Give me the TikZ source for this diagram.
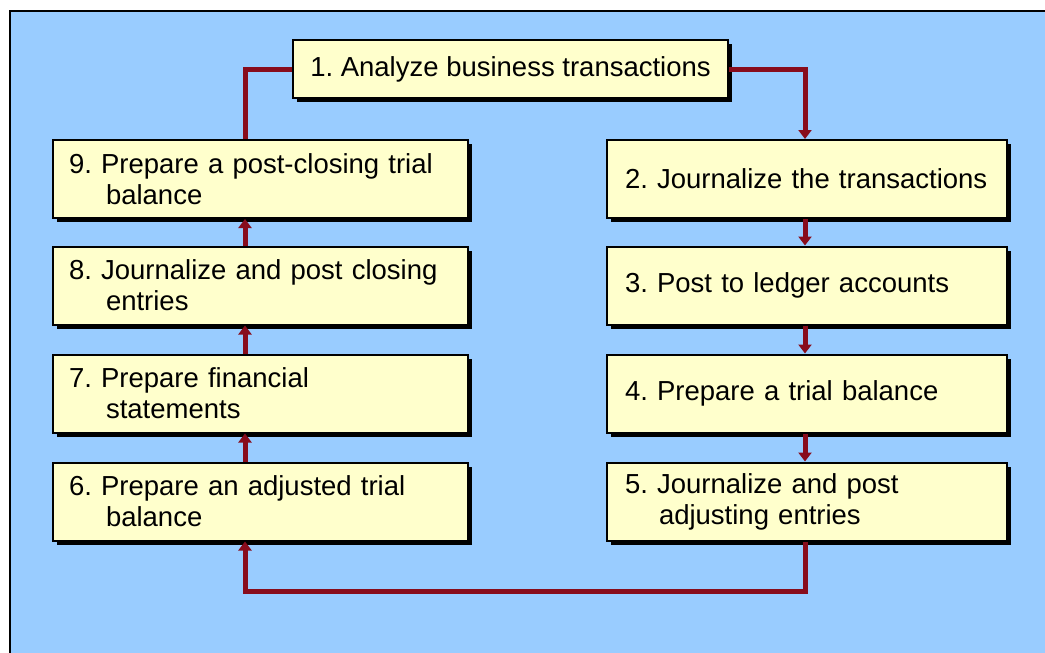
\documentclass[tikz,border=0pt]{standalone}
\usepackage{fontspec}
\setmainfont{Liberation Sans}
\usetikzlibrary{arrows.meta,shadows}
\definecolor{skyblue}{HTML}{99CCFF}
\definecolor{paleyellow}{HTML}{FFFFCC}
\definecolor{wine}{HTML}{880C1C}
\frenchspacing
\hyphenpenalty=10000
\exhyphenpenalty=10000
\tikzset{
  stepbox/.style={draw=black, line width=2pt, fill=paleyellow,
    drop shadow={shadow xshift=4pt, shadow yshift=-4pt, fill=black, opacity=1},
    inner xsep=16pt, inner ysep=0pt, align=left, anchor=center,
    font=\fontsize{27.5}{31}\selectfont},
  leftbox/.style={stepbox, minimum width=415pt, minimum height=78pt, text width=383pt},
  rightbox/.style={stepbox, minimum width=400pt, minimum height=78pt, inner xsep=18pt, text width=364pt},
  link/.style={draw=wine, line width=5pt},
  flow/.style={link, -{Triangle[width=13pt,length=9pt]}},
}
\newcommand{\hang}{\\\hspace*{37pt}}
\begin{document}
\begin{tikzpicture}[x=1pt,y=-1pt]
  \useasboundingbox (0,0) rectangle (1045,653);
  \clip (0,0) rectangle (1045,653);
  \fill[white] (0,0) rectangle (1045,653);
  % panel
  \draw[fill=skyblue, line width=2.5pt] (10,11) rectangle (1070,680);

  % guide lines for the two columns of connectors and the bottom return
  \coordinate (L) at (245,0);
  \coordinate (R) at (805,0);
  \coordinate (B) at (0,591);

  % steps
  \node[stepbox, minimum width=435pt, minimum height=58pt] (b1) at (510.5,69) {1. Analyze business transactions};
  \node[leftbox] (b9) at (260.5,179)   {9. Prepare a post-closing trial\hang balance};
  \node[leftbox] (b8) at (260.5,285.5) {8. Journalize and post closing\hang entries};
  \node[leftbox] (b7) at (260.5,393.5) {7. Prepare financial\hang statements};
  \node[leftbox] (b6) at (260.5,501.5) {6. Prepare an adjusted trial\hang balance};
  \node[rightbox] (b2) at (807,179)   {2. Journalize the transactions};
  \node[rightbox] (b3) at (807,285.5) {3. Post to ledger accounts};
  \node[rightbox] (b4) at (807,393.5) {4. Prepare a trial balance};
  \node[rightbox] (b5) at (807,501.5) {5. Journalize and post\\\hspace*{34pt}adjusting entries};

  % connectors
  \draw[link] (b1.west) -| (b9.north -| L);
  \draw[flow] (b1.east) -| (b2.north -| R);
  \draw[flow] (b2.south -| R) -- (b3.north -| R);
  \draw[flow] (b3.south -| R) -- (b4.north -| R);
  \draw[flow] (b4.south -| R) -- (b5.north -| R);
  \draw[flow] (b5.south -| R) |- (B -| L) -- (b6.south -| L);
  \draw[flow] (b6.north -| L) -- (b7.south -| L);
  \draw[flow] (b7.north -| L) -- (b8.south -| L);
  \draw[flow] (b8.north -| L) -- (b9.south -| L);
\end{tikzpicture}
\end{document}
